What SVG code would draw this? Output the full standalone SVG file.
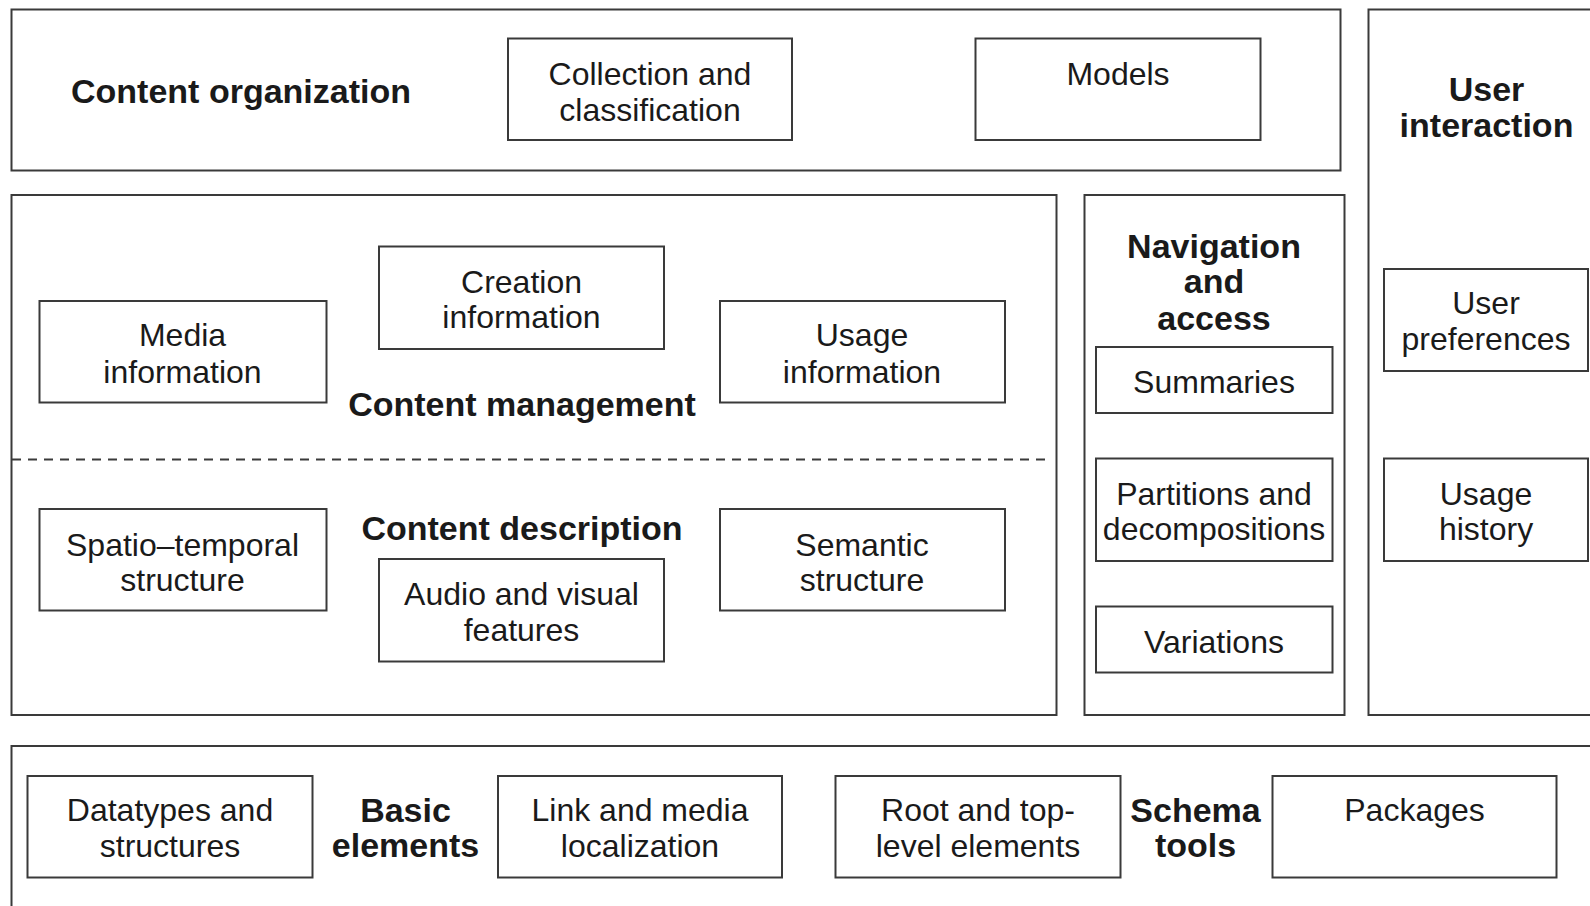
<svg xmlns="http://www.w3.org/2000/svg" width="1590" height="906" viewBox="0 0 1590 906">
<style>
.frame{fill:none;stroke:#3a3a3a;stroke-width:2}
.box{fill:#fff;stroke:#3a3a3a;stroke-width:2}
text{font-family:"Liberation Sans",Arial,sans-serif;fill:#1a1a1a;text-anchor:middle}
.t{font-size:32px}
.b{font-size:34px;font-weight:bold}
.dash{stroke:#3a3a3a;stroke-width:2;stroke-dasharray:9 7;fill:none}
</style>
<rect width="1590" height="906" fill="#fff"/>

<g id="content-organization">
<rect class="frame" x="11.5" y="9.5" width="1329" height="161"/>
<text class="b" x="241" y="103">Content organization</text>
</g>
<g id="collection-classification">
<rect class="box" x="508" y="38.5" width="284" height="101.5"/>
<text class="t" x="650" y="84.5">Collection and</text>
<text class="t" x="650" y="121">classification</text>
</g>
<g id="models">
<rect class="box" x="975.5" y="38.5" width="285" height="101.5"/>
<text class="t" x="1118" y="84.5">Models</text>
</g>

<g id="user-interaction">
<path class="frame" d="M1600 9.5 H1368.5 V715 H1600"/>
<text class="b" x="1486.5" y="101">User</text>
<text class="b" x="1486.5" y="137">interaction</text>
</g>
<g id="user-preferences">
<rect class="box" x="1384" y="269" width="204" height="102"/>
<text class="t" x="1486" y="313.5">User</text>
<text class="t" x="1486" y="350">preferences</text>
</g>
<g id="usage-history">
<rect class="box" x="1384" y="458.5" width="204" height="102.5"/>
<text class="t" x="1486" y="504.5">Usage</text>
<text class="t" x="1486" y="540">history</text>
</g>

<g id="content-management">
<rect class="frame" x="11.5" y="195" width="1045" height="520"/>
<text class="b" x="522" y="416">Content management</text>
</g>
<g id="content-description">
<text class="b" x="522" y="540">Content description</text>
</g>
<g id="media-information">
<rect class="box" x="39.5" y="301" width="287" height="101.5"/>
<text class="t" x="182.5" y="346">Media</text>
<text class="t" x="182.5" y="382.5">information</text>
</g>
<g id="creation-information">
<rect class="box" x="379" y="246.5" width="285" height="102.5"/>
<text class="t" x="521.5" y="292.5">Creation</text>
<text class="t" x="521.5" y="328">information</text>
</g>
<g id="usage-information">
<rect class="box" x="720" y="301" width="285" height="101.5"/>
<text class="t" x="862" y="346">Usage</text>
<text class="t" x="862" y="382.5">information</text>
</g>
<g id="spatio-temporal">
<rect class="box" x="39.5" y="509" width="287" height="101.5"/>
<text class="t" x="182.5" y="555.5">Spatio–temporal</text>
<text class="t" x="182.5" y="591">structure</text>
</g>
<g id="audio-visual">
<rect class="box" x="379" y="559" width="285" height="102.5"/>
<text class="t" x="521.5" y="605">Audio and visual</text>
<text class="t" x="521.5" y="640.5">features</text>
</g>
<g id="semantic-structure">
<rect class="box" x="720" y="509" width="285" height="101.5"/>
<text class="t" x="862" y="555.5">Semantic</text>
<text class="t" x="862" y="591">structure</text>
</g>

<g id="navigation-access">
<rect class="frame" x="1084.5" y="195" width="260" height="520"/>
<text class="b" x="1214" y="257.5">Navigation</text>
<text class="b" x="1214" y="293">and</text>
<text class="b" x="1214" y="329.5">access</text>
</g>
<g id="summaries">
<rect class="box" x="1096" y="347" width="236.5" height="66"/>
<text class="t" x="1214" y="393">Summaries</text>
</g>
<g id="partitions">
<rect class="box" x="1096" y="458.5" width="236.5" height="102.5"/>
<text class="t" x="1214" y="504.5">Partitions and</text>
<text class="t" x="1214" y="540">decompositions</text>
</g>
<g id="variations">
<rect class="box" x="1096" y="606.5" width="236.5" height="66"/>
<text class="t" x="1214" y="652.5">Variations</text>
</g>

<g id="basic-schema">
<path class="frame" d="M1600 746 H11.5 V920"/>
<text class="b" x="405.5" y="821.5">Basic</text>
<text class="b" x="405.5" y="857">elements</text>
<text class="b" x="1195.5" y="821.5">Schema</text>
<text class="b" x="1195.5" y="857">tools</text>
</g>
<g id="datatypes">
<rect class="box" x="27.5" y="776" width="285" height="101.5"/>
<text class="t" x="170" y="821">Datatypes and</text>
<text class="t" x="170" y="856.5">structures</text>
</g>
<g id="link-media">
<rect class="box" x="498" y="776" width="284" height="101.5"/>
<text class="t" x="640" y="821">Link and media</text>
<text class="t" x="640" y="856.5">localization</text>
</g>
<g id="root-top-level">
<rect class="box" x="835.5" y="776" width="285" height="101.5"/>
<text class="t" x="978" y="821">Root and top-</text>
<text class="t" x="978" y="856.5">level elements</text>
</g>
<g id="packages">
<rect class="box" x="1272.5" y="776" width="284" height="101.5"/>
<text class="t" x="1414.5" y="821">Packages</text>
</g>

<g id="connectors">
<line class="dash" x1="12" y1="459.5" x2="1046" y2="459.5"/>
</g>
</svg>
